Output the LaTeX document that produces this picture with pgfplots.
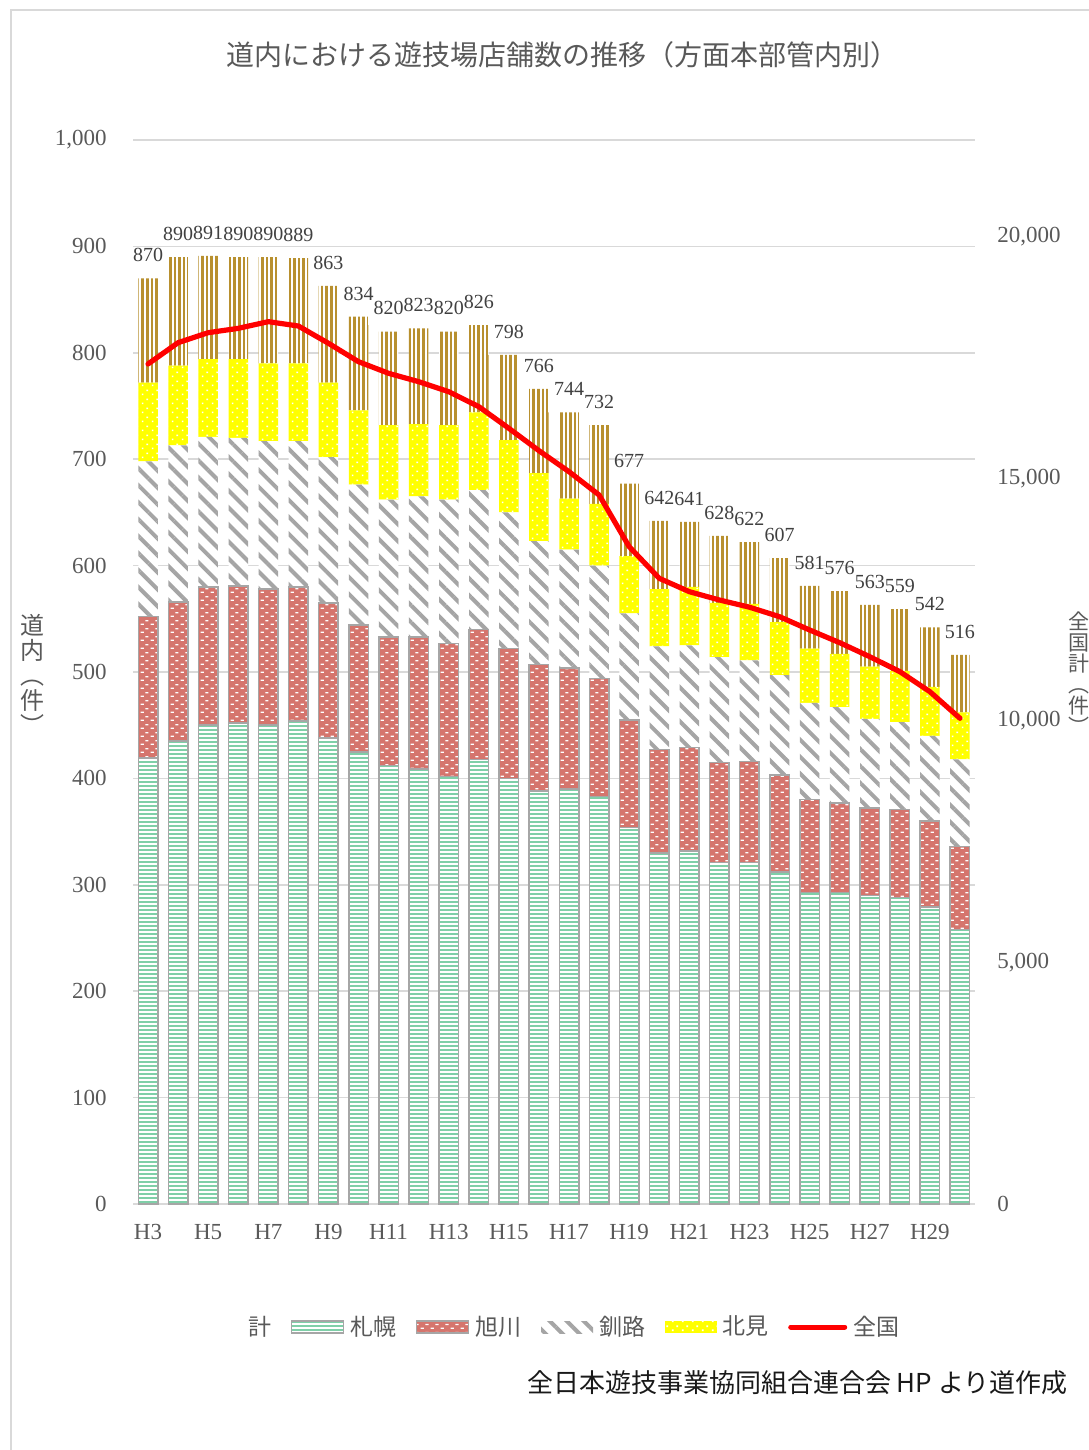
\documentclass[border=0pt]{standalone}
\usepackage{fontspec}
\setmainfont{Liberation Serif}
\newfontfamily\jp{Noto Sans CJK JP}
\usepackage{pgfplots}
\pgfplotsset{compat=1.18}
\usepackage{pgfplotstable}
\usetikzlibrary{patterns,patterns.meta}

\definecolor{tgray}{HTML}{595959}
\definecolor{lgray}{HTML}{404040}
\definecolor{gridc}{HTML}{D9D9D9}
\definecolor{edge}{HTML}{A6A6A6}
\definecolor{sapg}{HTML}{7FCFA8}
\definecolor{asar}{HTML}{D5756D}
\definecolor{kusg}{HTML}{A5A5A5}
\definecolor{kity}{HTML}{FFFF00}
\definecolor{hakb}{HTML}{B8902F}
\definecolor{natr}{HTML}{FF0000}

% white dashes on red, dots on yellow
\pgfdeclarepatternformonly{brickdash}{\pgfqpoint{0pt}{0pt}}{\pgfqpoint{5pt}{4pt}}{\pgfqpoint{5pt}{4pt}}{%
  \pgfpathrectangle{\pgfqpoint{0.4pt}{0.6pt}}{\pgfqpoint{1.7pt}{0.7pt}}%
  \pgfpathrectangle{\pgfqpoint{2.9pt}{2.6pt}}{\pgfqpoint{1.7pt}{0.7pt}}%
  \pgfusepath{fill}}
\pgfdeclarepatternformonly{ydots}{\pgfqpoint{0pt}{0pt}}{\pgfqpoint{5pt}{4.5pt}}{\pgfqpoint{5pt}{4.5pt}}{%
  \pgfpathrectangle{\pgfqpoint{1pt}{1pt}}{\pgfqpoint{0.9pt}{0.9pt}}%
  \pgfpathrectangle{\pgfqpoint{3.5pt}{3.2pt}}{\pgfqpoint{0.9pt}{0.9pt}}%
  \pgfusepath{fill}}

\pgfplotsset{patch/.style={legend image code/.code={\path[##1] (0pt,-3pt) rectangle (26pt,3pt);}},
  linepatch/.style={legend image code/.code={\draw[##1] (0pt,0pt) -- (27pt,0pt);}},
  chartpos/.style={at={(66.5pt,-602pt)},anchor=south west,scale only axis,width=421pt,height=532pt,
    xmin=-0.5,xmax=27.5}}

% x: H3=0 ... H30=27; segments of each bar and the total; nat = 全国
\pgfplotstableread{
x sap asa kus kit hak tot nat
0 419 133 146 74 98 870 17369
1 435 131 147 75 102 890 17810
2 450 130 141 73 97 891 18016
3 452 129 139 74 96 890 18106
4 450 128 139 73 100 890 18244
5 454 126 137 73 99 889 18154
6 438 127 137 70 91 863 17797
7 425 119 132 70 88 834 17416
8 412 121 129 70 88 820 17176
9 409 124 132 68 90 823 17003
10 402 125 135 70 88 820 16796
11 418 122 131 73 82 826 16486
12 400 122 128 68 80 798 16038
13 388 119 116 64 79 766 15576
14 390 114 111 48 81 744 15142
15 383 111 106 58 74 732 14660
16 354 101 100 54 68 677 13591
17 330 97 97 54 64 642 12937
18 332 97 96 55 61 641 12661
19 321 94 99 51 63 628 12489
20 321 95 95 53 58 622 12340
21 312 91 94 50 60 607 12144
22 293 87 91 51 59 581 11869
23 293 84 90 50 59 576 11606
24 290 82 84 49 58 563 11317
25 288 83 82 48 58 559 11007
26 279 81 80 46 56 542 10593
27 258 78 82 44 54 516 10043
}\bardata

\begin{document}
\begin{tikzpicture}
\useasboundingbox (0,0) rectangle (544pt,-725pt);
\draw[gridc,line width=0.75pt] (5.5pt,-740pt) -- (5.5pt,-5pt) -- (560pt,-5pt);

\begin{axis}[chartpos,
  ybar stacked, bar width=9.75pt,
  ymin=0, ymax=1000,
  xtick={0,2,...,26}, xticklabels={H3,H5,H7,H9,H11,H13,H15,H17,H19,H21,H23,H25,H27,H29},
  ytick={0,100,200,300,400,500,600,700,800,900,1000},
  ymajorgrids, grid style={gridc,line width=0.75pt},
  axis x line*=bottom, axis y line*=left,
  x axis line style={gridc,line width=0.75pt}, y axis line style={draw=none},
  major tick length=0pt,
  tick label style={font=\fontsize{11.5}{12}\selectfont,text=tgray},
  yticklabel style={inner sep=0pt,xshift=-13pt},
  xticklabel style={inner sep=0pt,yshift=-10pt},
  scaled y ticks=false,
  /pgf/number format/assume math mode=true, /pgf/number format/1000 sep={,},
  legend style={at={(0.522,-0.1156)},anchor=center,draw=none,fill=none,
    font=\jp\fontsize{11.5}{12}\selectfont,text=tgray,legend columns=-1,
    nodes={inner sep=1.8pt},
    /tikz/every odd column/.append style={column sep=1.2pt},
    /tikz/every even column/.append style={column sep=8pt}},
  legend cell align=left,
]
\addlegendimage{empty legend}\addlegendentry{計}
\addplot[draw=edge,line width=0.75pt,preaction={fill=white},
  pattern={Lines[angle=0,distance=2pt,line width=1.1pt]},pattern color=sapg,patch]
  table[x=x,y=sap]{\bardata};
\addlegendentry{札幌}
\addplot[draw=edge,line width=0.75pt,preaction={fill=asar},
  pattern=brickdash,pattern color=white,patch]
  table[x=x,y=asa]{\bardata};
\addlegendentry{旭川}
\addplot[draw=none,preaction={fill=white},
  pattern={Lines[angle=-45,distance=6pt,line width=2pt]},pattern color=kusg,patch]
  table[x=x,y=kus]{\bardata};
\addlegendentry{釧路}
\addplot[draw=none,preaction={fill=kity},
  pattern=ydots,pattern color=white,patch]
  table[x=x,y=kit]{\bardata};
\addlegendentry{北見}
\addlegendimage{natr,line width=2.5pt,line cap=round,linepatch}
\addlegendentry{全国}
\addplot[draw=none,preaction={fill=white},
  pattern={Lines[angle=90,distance=2.3pt,line width=1.3pt]},pattern color=hakb]
  table[x=x,y=hak]{\bardata};
\end{axis}

\begin{axis}[chartpos,
  ymin=0, ymax=22000,
  axis y line*=right, axis x line=none, y axis line style={draw=none},
  ytick={0,5000,10000,15000,20000}, xtick=\empty,
  major tick length=0pt, scaled y ticks=false,
  tick label style={font=\fontsize{11.5}{12}\selectfont,text=tgray},
  yticklabel style={inner sep=0pt,xshift=11pt},
  /pgf/number format/assume math mode=true, /pgf/number format/1000 sep={,},
]
\addplot[natr,line width=2.6pt,line join=round,line cap=round,mark=none]
  table[x=x,y=nat]{\bardata};
\end{axis}

\begin{axis}[chartpos, ymin=0, ymax=1000, hide axis, clip=false]
\addplot[draw=none,mark=none,nodes near coords={\pgfplotspointmeta},
  point meta=explicit symbolic,
  nodes near coords style={font=\fontsize{10}{10}\selectfont,text=lgray,anchor=south,inner sep=0pt,yshift=8pt}]
  table[x=x,y=tot,meta=tot]{\bardata};
\end{axis}

\node[font=\jp\fontsize{14}{14}\selectfont,text=tgray] at (281pt,-27.5pt)
  {道内における遊技場店舗数の推移（方面本部管内別）};
\node[font=\jp\fontsize{12}{12.5}\selectfont,text=tgray,align=center] at (16pt,-337pt)
  {道\\内\\︵\\件\\︶};
\node[font=\jp\fontsize{10.5}{10.5}\selectfont,text=tgray,align=center] at (539.5pt,-336.5pt)
  {全\\国\\計\\︵\\件\\︶};
\node[font=\jp\fontsize{13}{14}\selectfont,text=black!90,anchor=east,inner sep=0pt] at (534pt,-691.5pt)
  {全日本遊技事業協同組合連合会 HP より道作成};
\end{tikzpicture}
\end{document}
